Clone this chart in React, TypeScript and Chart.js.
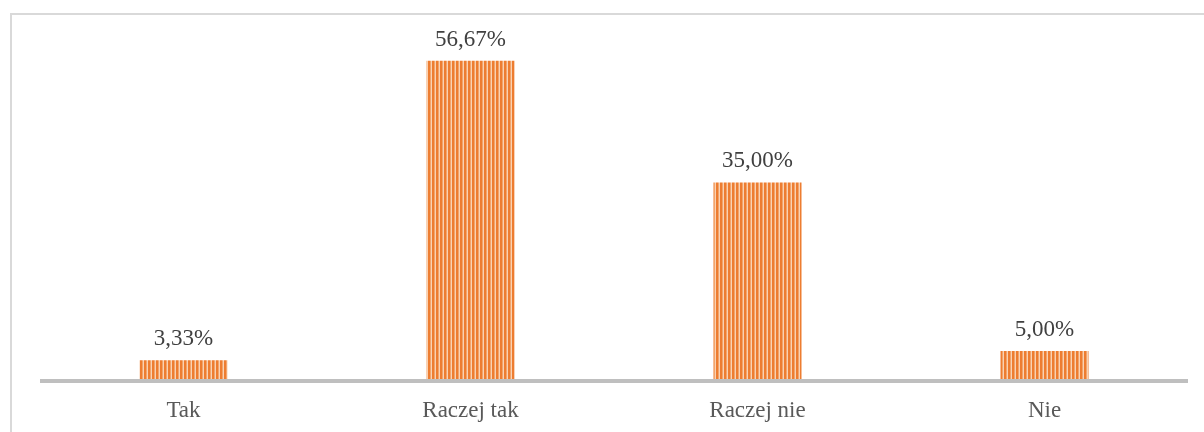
import React, { useEffect, useRef } from "react";
import { Chart, registerables } from "chart.js";

Chart.register(...registerables);

const categories = ["Tak", "Raczej tak", "Raczej nie", "Nie"];
const values = [3.33, 56.67, 35.0, 5.0];
const valueLabels = ["3,33%", "56,67%", "35,00%", "5,00%"];

function makePattern(): CanvasPattern | string {
  const c = document.createElement("canvas");
  c.width = 4;
  c.height = 4;
  const g = c.getContext("2d");
  if (!g) return "#ED7D31";
  g.fillStyle = "#ED7D31";
  g.fillRect(0, 0, 2, 4);
  g.fillStyle = "#F3A56C";
  g.fillRect(2, 0, 1, 4);
  g.fillStyle = "#F9D2B3";
  g.fillRect(3, 0, 1, 4);
  const p = g.createPattern(c, "repeat");
  return p || "#ED7D31";
}

export default function App() {
  const ref = useRef<HTMLCanvasElement | null>(null);
  useEffect(() => {
    if (!ref.current) return;
    const pattern = makePattern();
    const labelPlugin = {
      id: "valueLabels",
      afterDatasetsDraw(chart: any) {
        const ctx = chart.ctx;
        const area = chart.chartArea;
        ctx.save();
        ctx.fillStyle = "#BFBFBF";
        ctx.fillRect(area.left, area.bottom, area.right - area.left, 4);
        const meta = chart.getDatasetMeta(0);
        ctx.font = "23px 'Liberation Serif'";
        ctx.fillStyle = "#404040";
        ctx.textAlign = "center";
        ctx.textBaseline = "alphabetic";
        meta.data.forEach((el: any, i: number) => {
          ctx.fillText(valueLabels[i], el.x, el.y - 15);
        });
        ctx.restore();
      },
    };
    const chart = new Chart(ref.current, {
      type: "bar",
      data: {
        labels: categories,
        datasets: [
          {
            data: values,
            backgroundColor: pattern as any,
            borderWidth: 0,
            barPercentage: 1,
            categoryPercentage: 0.3066,
          },
        ],
      },
      options: {
        responsive: false,
        animation: false,
        layout: { padding: { left: 40, right: 16, top: 42, bottom: 0 } },
        plugins: { legend: { display: false }, tooltip: { enabled: false } },
        scales: {
          x: {
            grid: { display: false, drawTicks: false },
            border: { display: false },
            ticks: {
              color: "#595959",
              font: { family: "'Liberation Serif'", size: 23 },
              padding: 18,
              maxRotation: 0,
            },
            afterFit(scale: any) {
              scale.height = 53;
            },
          },
          y: { display: false, min: 0, max: 60 },
        },
      },
      plugins: [labelPlugin],
    });
    return () => chart.destroy();
  }, []);
  return (
    <div style={{ position: "fixed", left: 0, top: 0, width: 1204, height: 432, background: "#fff", overflow: "hidden" }}>
      <div
        style={{
          position: "absolute",
          left: 10,
          top: 13,
          width: 1220,
          height: 440,
          border: "2px solid #D9D9D9",
          boxSizing: "border-box",
        }}
      />
      <canvas ref={ref} width={1204} height={432} style={{ position: "absolute", left: 0, top: 0 }} />
    </div>
  );
}
